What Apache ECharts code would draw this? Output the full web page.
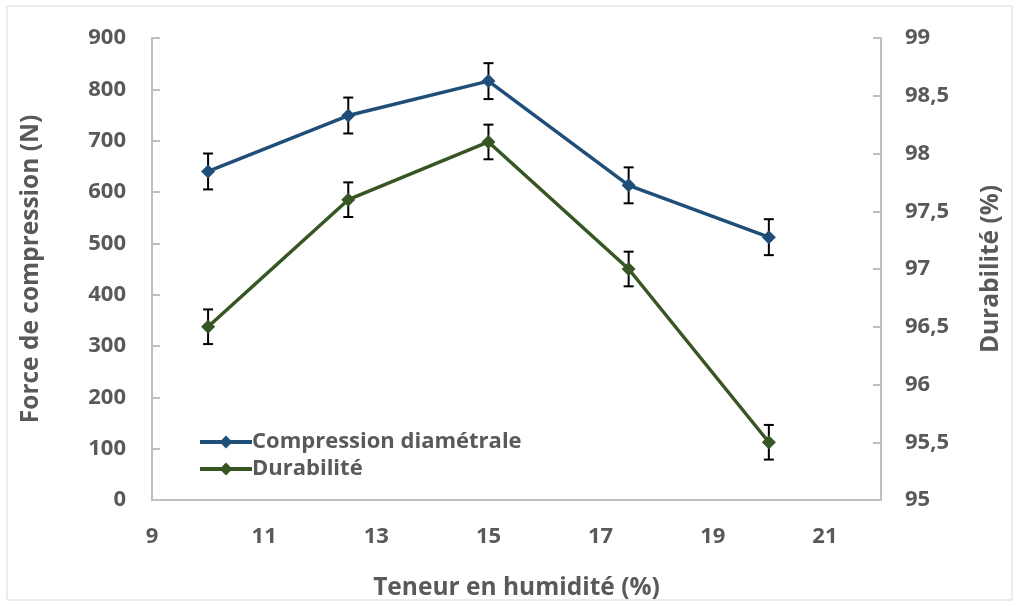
<!DOCTYPE html>
<html>
<head>
<meta charset="utf-8">
<script src="https://cdn.jsdelivr.net/npm/echarts@6/dist/echarts.min.js"></script>
<style>
  html, body { margin: 0; padding: 0; background: #ffffff; }
  #chart { width: 1019px; height: 606px; }
</style>
</head>
<body>
<div id="chart"></div>
<script>
// Moisture content (%) at which the pellets were tested
const moisture = [10, 12.5, 15, 17.5, 20];
// Diametral compression force (N) and its standard deviation
const compression = [640, 749, 816, 613, 512];
const compressionErr = [35, 35, 35, 35, 35];
// Mechanical durability (%) and its standard deviation
const durability = [96.5, 97.6, 98.1, 97.0, 95.5];
const durabilityErr = [0.15, 0.15, 0.15, 0.15, 0.15];

const seriesNames = ['Compression diamétrale', 'Durabilité'];
const colors = ['#1F4E79', '#375623'];
const textColor = '#595959';
const axisColor = '#BFBFBF';
const font = 'Open Sans';

const pairs = (xs, ys) => xs.map((x, i) => [x, ys[i]]);
const errRows = (xs, ys, es) => xs.map((x, i) => [x, ys[i] - es[i], ys[i] + es[i]]);

// Vertical error bar with short caps, drawn in data coordinates
function errorBar(params, api) {
  const x = api.value(0);
  const lo = api.coord([x, api.value(1)]);
  const hi = api.coord([x, api.value(2)]);
  const half = 5;
  const style = { stroke: '#000000', lineWidth: 2 };
  return {
    type: 'group',
    children: [
      { type: 'line', shape: { x1: lo[0], y1: lo[1], x2: hi[0], y2: hi[1] }, style },
      { type: 'line', shape: { x1: lo[0] - half, y1: lo[1], x2: lo[0] + half, y2: lo[1] }, style },
      { type: 'line', shape: { x1: hi[0] - half, y1: hi[1], x2: hi[0] + half, y2: hi[1] }, style }
    ]
  };
}

const labelStyle = { color: textColor, fontFamily: font, fontWeight: 'bold', fontSize: 22 };
const titleStyle = { color: textColor, fontFamily: font, fontWeight: 'bold', fontSize: 24.5 };

const chart = echarts.init(document.getElementById('chart'), null, { renderer: 'canvas' });
chart.setOption({
  backgroundColor: '#ffffff',
  animation: false,
  grid: { left: 152, right: 138, top: 38, bottom: 97, containLabel: false },
  graphic: [{
    type: 'rect',
    shape: { x: 7, y: 6, width: 1005, height: 594 },
    style: { fill: 'none', stroke: '#D9D9D9', lineWidth: 1 },
    silent: true, z: -10
  }],
  legend: {
    orient: 'vertical',
    left: 193,
    top: 426,
    itemWidth: 52,
    itemHeight: 16,
    itemGap: 5,
    data: seriesNames,
    lineStyle: { width: 4 },
    textStyle: { color: textColor, fontFamily: font, fontWeight: 'bold', fontSize: 22, padding: [0, 0, 0, -5] }
  },
  xAxis: {
    type: 'value',
    min: 9,
    max: 22,
    interval: 1,
    name: 'Teneur en humidité (%)',
    nameLocation: 'middle',
    nameGap: 76,
    nameTextStyle: titleStyle,
    axisLine: { show: true, onZero: false, lineStyle: { color: axisColor, width: 2 } },
    axisTick: { show: false },
    splitLine: { show: false },
    axisLabel: Object.assign({}, labelStyle, {
      margin: 26,
      formatter: v => (v % 2 === 1 ? String(v) : '')
    })
  },
  yAxis: [{
    type: 'value',
    min: 0,
    max: 900,
    interval: 100,
    name: 'Force de compression (N)',
    nameLocation: 'middle',
    nameGap: 108,
    nameTextStyle: titleStyle,
    axisLine: { show: true, lineStyle: { color: axisColor, width: 2 } },
    axisTick: { show: true, inside: true, length: 8, lineStyle: { color: axisColor, width: 2 } },
    splitLine: { show: false },
    axisLabel: Object.assign({}, labelStyle, { margin: 26 })
  }, {
    type: 'value',
    min: 95,
    max: 99,
    interval: 0.5,
    name: 'Durabilité (%)',
    nameLocation: 'middle',
    nameGap: 98,
    nameRotate: 90,
    nameTextStyle: titleStyle,
    axisLine: { show: true, lineStyle: { color: axisColor, width: 2 } },
    axisTick: { show: true, inside: true, length: 8, lineStyle: { color: axisColor, width: 2 } },
    splitLine: { show: false },
    axisLabel: Object.assign({}, labelStyle, {
      margin: 24,
      formatter: v => String(v).replace('.', ',')
    })
  }],
  series: [{
    name: seriesNames[0],
    type: 'line',
    yAxisIndex: 0,
    data: pairs(moisture, compression),
    symbol: 'diamond',
    symbolSize: 14,
    lineStyle: { color: colors[0], width: 3.5 },
    itemStyle: { color: colors[0] },
    z: 3
  }, {
    name: seriesNames[1],
    type: 'line',
    yAxisIndex: 1,
    data: pairs(moisture, durability),
    symbol: 'diamond',
    symbolSize: 14,
    lineStyle: { color: colors[1], width: 3.5 },
    itemStyle: { color: colors[1] },
    z: 3
  }, {
    type: 'custom',
    yAxisIndex: 0,
    renderItem: errorBar,
    data: errRows(moisture, compression, compressionErr),
    encode: { x: 0, y: [1, 2] },
    z: 2
  }, {
    type: 'custom',
    yAxisIndex: 1,
    renderItem: errorBar,
    data: errRows(moisture, durability, durabilityErr),
    encode: { x: 0, y: [1, 2] },
    z: 2
  }]
});
</script>
</body>
</html>
